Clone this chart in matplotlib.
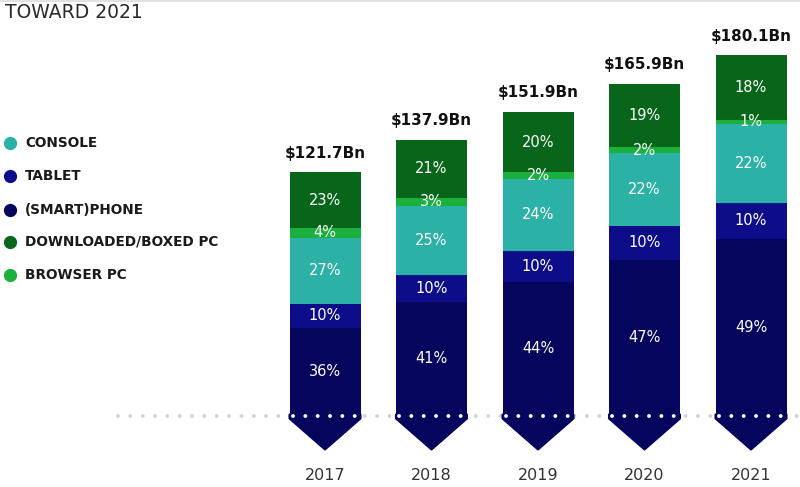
import matplotlib
matplotlib.use("Agg")
import matplotlib.pyplot as plt
from matplotlib.patches import Polygon
import numpy as np

years = ["2017", "2018", "2019", "2020", "2021"]
totals = [121.7, 137.9, 151.9, 165.9, 180.1]
total_labels = ["$121.7Bn", "$137.9Bn", "$151.9Bn", "$165.9Bn", "$180.1Bn"]

# stacked bottom -> top
segments = ["(SMART)PHONE", "TABLET", "CONSOLE", "BROWSER PC", "DOWNLOADED/BOXED PC"]
smartphone = [36, 41, 44, 47, 49]
tablet = [10, 10, 10, 10, 10]
console = [27, 25, 24, 22, 22]
browser_pc = [4, 3, 2, 2, 1]
downloaded_pc = [23, 21, 20, 19, 18]
shares = [smartphone, tablet, console, browser_pc, downloaded_pc]

colors = {
    "(SMART)PHONE": "#05055e",
    "TABLET": "#0d0d8a",
    "CONSOLE": "#2bb1a5",
    "BROWSER PC": "#1bb03e",
    "DOWNLOADED/BOXED PC": "#08661a",
}

legend_order = ["CONSOLE", "TABLET", "(SMART)PHONE", "DOWNLOADED/BOXED PC", "BROWSER PC"]

W, H = 800, 487
fig = plt.figure(figsize=(W / 100, H / 100), dpi=100)
ax = fig.add_axes([0, 0, 1, 1])
ax.axis("off")

# scales: x in bar index, y in $Bn (2 px per Bn, baseline at pixel 415.5)
px_per_bn = 2.0
base_px = 415.5
spacing_px = 106.5
x0_px = 325.0
ax.set_ylim((base_px - H) / px_per_bn, base_px / px_per_bn)
ax.set_xlim(-x0_px / spacing_px, (W - x0_px) / spacing_px)

x = np.arange(len(years))
bar_w = 71 / spacing_px
font = "DejaVu Sans"

dot_lw = 2.8
dot_style = (0, (0.01, (12.3 / 1.389) / dot_lw))

# dotted baseline (grey)
ax.plot([(118 - x0_px) / spacing_px, ax.get_xlim()[1]], [0, 0], color="#d3d3d3",
        lw=dot_lw, linestyle=dot_style, dash_capstyle="round", zorder=1)

bottoms = np.zeros(len(years))
for seg, sh in zip(segments, shares):
    vals = np.array(sh) / 100.0 * np.array(totals)
    ax.bar(x, vals, bottom=bottoms, width=bar_w, color=colors[seg], zorder=2,
           linewidth=0)
    for i, (v, b, p) in enumerate(zip(vals, bottoms, sh)):
        ax.text(x[i], b + v / 2, f"{p}%", ha="center", va="center",
                color="white", fontsize=10.5, family=font, zorder=5)
    bottoms = bottoms + vals

# arrow tips below baseline
tip_depth = 34 / px_per_bn
side = 3 / px_per_bn
for i in range(len(years)):
    l, r = x[i] - bar_w / 2, x[i] + bar_w / 2
    poly = Polygon([(l, 0.5), (r, 0.5), (r, -side), (x[i], -tip_depth), (l, -side)],
                   closed=True, facecolor=colors["(SMART)PHONE"],
                   edgecolor=colors["(SMART)PHONE"], lw=1.5, joinstyle="round", zorder=2)
    ax.add_patch(poly)
    # white dots across the bar
    ax.plot([l + 3 / spacing_px, r], [0, 0], color="white", lw=dot_lw,
            linestyle=dot_style, dash_capstyle="round", zorder=3)
    # total label
    ax.text(x[i], totals[i] + 19 / px_per_bn, total_labels[i], ha="center",
            va="center", fontsize=11, fontweight="bold", color="#111111",
            family=font, zorder=5)
    # year label
    ax.text(x[i], -(475 - base_px) / px_per_bn, years[i], ha="center", va="center",
            fontsize=11.5, color="#333333", family=font)

# legend
leg_y_px = [143, 176, 210, 242, 275]
for name, ypx in zip(legend_order, leg_y_px):
    yf = 1 - ypx / H
    ax.plot([9.5 / W], [yf], marker="o", markersize=8.5, color=colors[name],
            transform=ax.transAxes, clip_on=False, linestyle="none")
    ax.text(25 / W, yf, name, transform=ax.transAxes, ha="left", va="center",
            fontsize=9.8, fontweight="bold", color="#1a1a1a", family=font)

# title
ax.text(5 / W, 1 - 12 / H, "TOWARD 2021", transform=ax.transAxes, ha="left",
        va="center", fontsize=13.5, color="#2a2a2a", family=font)
ax.plot([0, 1], [1 - 0.8 / H, 1 - 0.8 / H], transform=ax.transAxes, color="#dddddd",
        lw=1.2, clip_on=False)

fig.savefig("out.png", dpi=100)
